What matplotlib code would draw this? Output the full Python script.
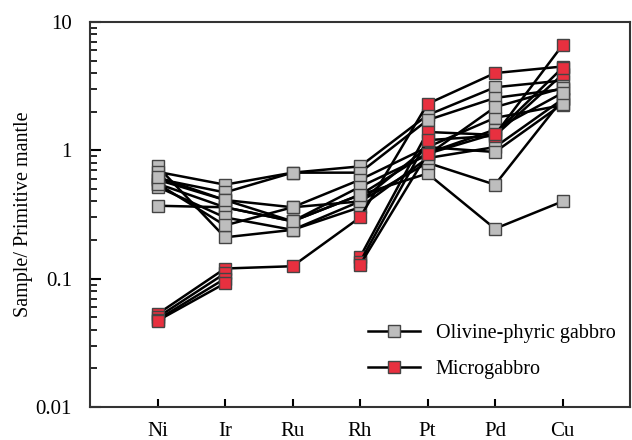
import numpy as np
import matplotlib.pyplot as plt
from matplotlib.ticker import LogLocator, NullFormatter, FixedFormatter, FixedLocator

elements = ['Ni', 'Ir', 'Ru', 'Rh', 'Pt', 'Pd', 'Cu']
nan = np.nan

# olivine-phyric gabbro, normalised to primitive mantle
gabbro = [
    [0.37, 0.36, 0.28, 0.45, 0.66, 0.245, 0.40],
    [0.75, 0.21, 0.24, 0.40, 0.80, 0.54, 2.5],
    [0.68, 0.54, 0.67, 0.75, 1.88, 3.1, 3.5],
    [0.60, 0.47, 0.67, 0.67, 1.72, 2.56, 3.0],
    [0.59, 0.41, 0.36, 0.59, 1.06, 1.79, 2.25],
    [0.55, 0.36, 0.28, 0.52, 0.92, 2.17, 3.06],
    [0.52, 0.30, 0.24, 0.36, 0.87, 1.06, 2.5],
    [0.55, 0.26, 0.36, 0.40, 1.06, 0.97, 2.3],
    [0.62, 0.41, 0.28, 0.45, 0.95, 1.45, 2.8],
]

# microgabbro (missing Ru/Rh break the line)
microgabbro = [
    [0.053, 0.12, 0.125, 0.30, 2.3, 4.0, 4.5],
    [0.050, 0.11, nan, 0.147, 1.39, 1.32, 6.6],
    [0.048, 0.10, nan, 0.135, 1.2, 1.30, 3.9],
    [0.047, 0.092, nan, 0.128, 0.94, 1.35, 4.4],
]

plt.rcParams['font.family'] = ['Liberation Serif', 'DejaVu Serif']

style = dict(color='k', linewidth=1.8, marker='s', markersize=8,
             markeredgecolor='#444444', markeredgewidth=1.0)

fig = plt.figure(figsize=(6.32, 4.40), dpi=100)
ax = fig.add_axes([90 / 632, 1 - 407 / 440, 540 / 632, 385 / 440])

x = np.arange(len(elements))
for row in gabbro:
    ax.plot(x, row, markerfacecolor='#bdbdbd', **style)
for row in microgabbro:
    ax.plot(x, row, markerfacecolor='#e8303f', **style)

ax.set_yscale('log')
ax.set_ylim(0.01, 10)
ax.set_xlim(-1, 7)
ax.set_xticks(x)
ax.set_xticklabels(elements, fontsize=15)
ax.yaxis.set_major_locator(FixedLocator([0.01, 0.1, 1, 10]))
ax.yaxis.set_major_formatter(FixedFormatter(['0.01', '0.1', '1', '10']))
ax.yaxis.set_minor_locator(LogLocator(base=10, subs=np.arange(2, 10)))
ax.yaxis.set_minor_formatter(NullFormatter())
ax.tick_params(axis='y', which='major', direction='in', length=8, width=1.5, labelsize=15, pad=13)
ax.tick_params(axis='y', which='minor', direction='in', length=5, width=1.2)
ax.tick_params(axis='x', which='major', direction='in', length=6, width=1.5, pad=11)
ax.set_ylabel('Sample/ Primitive mantle', fontsize=14.5)
ax.yaxis.set_label_coords(-0.106, 0.5)
for s in ax.spines.values():
    s.set_linewidth(1.5)
    s.set_color('#333333')

h1, = ax.plot([], [], markerfacecolor='#bdbdbd', **style)
h2, = ax.plot([], [], markerfacecolor='#e8303f', **style)
ax.legend([h1, h2], ['Olivine-phyric gabbro', 'Microgabbro'], loc='upper left',
          bbox_to_anchor=((360 - 90) / 540, 1 - (316 - 22) / 385), frameon=False,
          fontsize=14.5, handlelength=2.6, handletextpad=0.75, labelspacing=0.85,
          borderaxespad=0)

fig.savefig('out.png', dpi=100)
